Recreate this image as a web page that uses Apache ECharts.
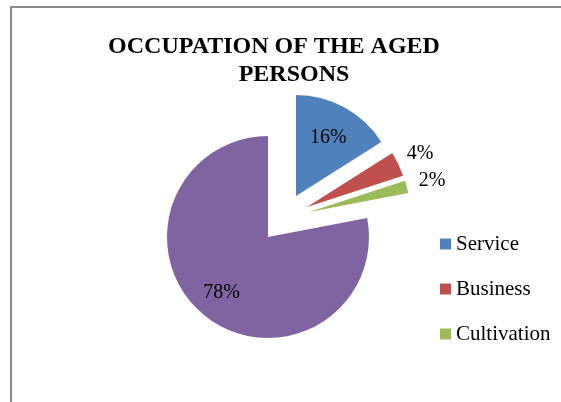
<!DOCTYPE html>
<html>
<head>
<meta charset="utf-8">
<script src="https://cdn.jsdelivr.net/npm/echarts@6/dist/echarts.min.js"></script>
<style>
  html,body{margin:0;padding:0;background:#fff;}
  #main{width:561px;height:402px;}
</style>
</head>
<body>
<div id="main"></div>
<script>
  // occupation shares (%)
  var names = ['Service', 'Business', 'Cultivation', 'Others'];
  var values = [16, 4, 2, 78];
  var colors = ['#4F81BD', '#C0504D', '#9BBB59', '#8064A2'];
  var legendNames = ['Service', 'Business', 'Cultivation'];

  var font = 'Liberation Serif, Times New Roman, serif';
  var R = 101;
  // apex of each slice (the first three are pulled out of the pie)
  var apex = [[296, 196], [307, 207], [309, 212], [268, 237]];
  // label radius of the helper pie: inside labels sit at half of it
  var labelR = [128, 244, 248, 140];

  // one pie per slice, the other slices of it are left transparent
  function slicePie(k, withLabel){
    return {
      type: 'pie',
      center: apex[k],
      radius: withLabel ? labelR[k] : R,
      startAngle: 90,
      clockwise: true,
      silent: withLabel,
      emphasis: {disabled: true},
      labelLine: {show: false},
      label: {
        show: withLabel,
        position: 'inside',
        color: '#000',
        fontFamily: font,
        fontSize: 20,
        padding: [6, 0, 0, 0],
        formatter: function(p){ return p.value + '%'; }
      },
      data: names.map(function(n, i){
        var on = (i === k);
        return {
          name: n,
          value: values[i],
          itemStyle: {color: (on && !withLabel) ? colors[i] : 'rgba(0,0,0,0)'},
          label: {show: withLabel && on}
        };
      })
    };
  }

  var series = [];
  for (var k = 0; k < names.length; k++) series.push(slicePie(k, false));
  for (var k = 0; k < names.length; k++) series.push(slicePie(k, true));

  var myChart = echarts.init(document.getElementById('main'));
  var option = {
    animation: false,
    color: colors,
    graphic: [{
      type: 'rect',
      shape: {x: 11, y: 7, width: 700, height: 500},
      style: {fill: 'none', stroke: '#8a8a8a', lineWidth: 2},
      silent: true
    }],
    title: [{
      text: 'OCCUPATION OF THE AGED',
      left: 274, top: 35, padding: 0,
      textAlign: 'center',
      textStyle: {fontFamily: font, fontSize: 24, fontWeight: 'bold', color: '#000'}
    }, {
      text: 'PERSONS',
      left: 294, top: 63, padding: 0,
      textAlign: 'center',
      textStyle: {fontFamily: font, fontSize: 24, fontWeight: 'bold', color: '#000'}
    }],
    legend: {
      orient: 'vertical',
      left: 440,
      top: 233,
      padding: 0,
      icon: 'rect',
      itemWidth: 11,
      itemHeight: 11,
      itemGap: 23,
      selectedMode: false,
      textStyle: {fontFamily: font, fontSize: 21, color: '#000', lineHeight: 22},
      data: legendNames.map(function(n, i){
        return {name: n, itemStyle: {color: colors[i]}};
      })
    },
    series: series
  };
  myChart.setOption(option);
</script>
</body>
</html>
